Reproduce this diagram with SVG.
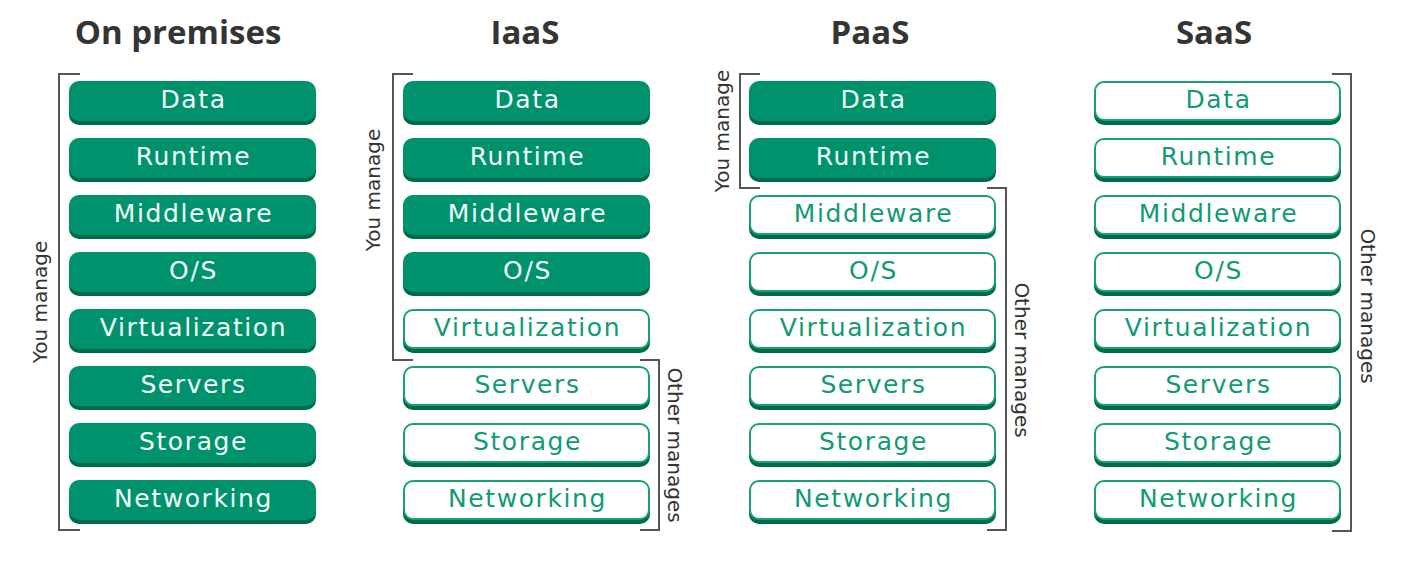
<svg xmlns="http://www.w3.org/2000/svg" width="1416" height="570" viewBox="0 0 1416 570">
<style>
.bg{fill:#ffffff}
.hdr{font-family:"Open Sans","DejaVu Sans",sans-serif;font-weight:700;font-size:33px;fill:#343434;text-anchor:middle}
.sh{fill:#006a4d}
.fill{fill:#00926d}
.out{fill:#ffffff;stroke:#17a07a;stroke-width:2}
.t{font-family:"DejaVu Sans","Liberation Sans",sans-serif;font-size:25px;letter-spacing:1.6px;text-anchor:middle}
.tw{fill:#f2fff9}
.tg{fill:#119a74}
.br{fill:none;stroke:#555555;stroke-width:2}
.side{font-family:"DejaVu Sans","Liberation Sans",sans-serif;font-size:20px;fill:#333333;text-anchor:middle}
</style>
<rect class="bg" x="0" y="0" width="1416" height="570"/>
<g id="headers">
<text class="hdr" x="178" y="44">On premises</text>
<text class="hdr" x="525" y="44">IaaS</text>
<text class="hdr" x="870" y="44">PaaS</text>
<text class="hdr" x="1214" y="44">SaaS</text>
</g>
<g id="brackets">
<path class="br" d="M80,74 H59 V530 H80"/>
<path class="br" d="M413,74 H393 V360 H413"/>
<path class="br" d="M640,360 H659 V530 H640"/>
<path class="br" d="M760,74 H740 V188 H760"/>
<path class="br" d="M987,188 H1006 V530 H987"/>
<path class="br" d="M1332,74 H1351 V531 H1332"/>
<text class="side" x="47" y="302" transform="rotate(-90 47 302)">You manage</text>
<text class="side" x="380" y="190" transform="rotate(-90 380 190)">You manage</text>
<text class="side" x="729" y="131" transform="rotate(-90 729 131)">You manage</text>
<text class="side" x="668" y="445" transform="rotate(90 668 445)">Other manages</text>
<text class="side" x="1015" y="360" transform="rotate(90 1015 360)">Other manages</text>
<text class="side" x="1361" y="306" transform="rotate(90 1361 306)">Other manages</text>
</g>
<g id="onprem">
<g id="op-data"><rect class="sh" x="69" y="84" width="247" height="41" rx="10"/><rect class="fill" x="69" y="81" width="247" height="40" rx="10"/><text class="t tw" x="193.5" y="108">Data</text></g>
<g id="op-runtime"><rect class="sh" x="69" y="141" width="247" height="41" rx="10"/><rect class="fill" x="69" y="138" width="247" height="40" rx="10"/><text class="t tw" x="193.5" y="165">Runtime</text></g>
<g id="op-middleware"><rect class="sh" x="69" y="198" width="247" height="41" rx="10"/><rect class="fill" x="69" y="195" width="247" height="40" rx="10"/><text class="t tw" x="193.5" y="222">Middleware</text></g>
<g id="op-os"><rect class="sh" x="69" y="255" width="247" height="41" rx="10"/><rect class="fill" x="69" y="252" width="247" height="40" rx="10"/><text class="t tw" x="193.5" y="279">O/S</text></g>
<g id="op-virtualization"><rect class="sh" x="69" y="312" width="247" height="41" rx="10"/><rect class="fill" x="69" y="309" width="247" height="40" rx="10"/><text class="t tw" x="193.5" y="336">Virtualization</text></g>
<g id="op-servers"><rect class="sh" x="69" y="369" width="247" height="41" rx="10"/><rect class="fill" x="69" y="366" width="247" height="40" rx="10"/><text class="t tw" x="193.5" y="393">Servers</text></g>
<g id="op-storage"><rect class="sh" x="69" y="426" width="247" height="41" rx="10"/><rect class="fill" x="69" y="423" width="247" height="40" rx="10"/><text class="t tw" x="193.5" y="450">Storage</text></g>
<g id="op-networking"><rect class="sh" x="69" y="483" width="247" height="41" rx="10"/><rect class="fill" x="69" y="480" width="247" height="40" rx="10"/><text class="t tw" x="193.5" y="507">Networking</text></g>
</g>
<g id="iaas">
<g id="ia-data"><rect class="sh" x="403" y="84" width="247" height="41" rx="10"/><rect class="fill" x="403" y="81" width="247" height="40" rx="10"/><text class="t tw" x="527.5" y="108">Data</text></g>
<g id="ia-runtime"><rect class="sh" x="403" y="141" width="247" height="41" rx="10"/><rect class="fill" x="403" y="138" width="247" height="40" rx="10"/><text class="t tw" x="527.5" y="165">Runtime</text></g>
<g id="ia-middleware"><rect class="sh" x="403" y="198" width="247" height="41" rx="10"/><rect class="fill" x="403" y="195" width="247" height="40" rx="10"/><text class="t tw" x="527.5" y="222">Middleware</text></g>
<g id="ia-os"><rect class="sh" x="403" y="255" width="247" height="41" rx="10"/><rect class="fill" x="403" y="252" width="247" height="40" rx="10"/><text class="t tw" x="527.5" y="279">O/S</text></g>
<g id="ia-virtualization"><rect class="sh" x="403" y="312" width="247" height="41" rx="10"/><rect class="out" x="404" y="310" width="245" height="38" rx="9"/><text class="t tg" x="527.5" y="336">Virtualization</text></g>
<g id="ia-servers"><rect class="sh" x="403" y="369" width="247" height="41" rx="10"/><rect class="out" x="404" y="367" width="245" height="38" rx="9"/><text class="t tg" x="527.5" y="393">Servers</text></g>
<g id="ia-storage"><rect class="sh" x="403" y="426" width="247" height="41" rx="10"/><rect class="out" x="404" y="424" width="245" height="38" rx="9"/><text class="t tg" x="527.5" y="450">Storage</text></g>
<g id="ia-networking"><rect class="sh" x="403" y="483" width="247" height="41" rx="10"/><rect class="out" x="404" y="481" width="245" height="38" rx="9"/><text class="t tg" x="527.5" y="507">Networking</text></g>
</g>
<g id="paas">
<g id="pa-data"><rect class="sh" x="749" y="84" width="247" height="41" rx="10"/><rect class="fill" x="749" y="81" width="247" height="40" rx="10"/><text class="t tw" x="873.5" y="108">Data</text></g>
<g id="pa-runtime"><rect class="sh" x="749" y="141" width="247" height="41" rx="10"/><rect class="fill" x="749" y="138" width="247" height="40" rx="10"/><text class="t tw" x="873.5" y="165">Runtime</text></g>
<g id="pa-middleware"><rect class="sh" x="749" y="198" width="247" height="41" rx="10"/><rect class="out" x="750" y="196" width="245" height="38" rx="9"/><text class="t tg" x="873.5" y="222">Middleware</text></g>
<g id="pa-os"><rect class="sh" x="749" y="255" width="247" height="41" rx="10"/><rect class="out" x="750" y="253" width="245" height="38" rx="9"/><text class="t tg" x="873.5" y="279">O/S</text></g>
<g id="pa-virtualization"><rect class="sh" x="749" y="312" width="247" height="41" rx="10"/><rect class="out" x="750" y="310" width="245" height="38" rx="9"/><text class="t tg" x="873.5" y="336">Virtualization</text></g>
<g id="pa-servers"><rect class="sh" x="749" y="369" width="247" height="41" rx="10"/><rect class="out" x="750" y="367" width="245" height="38" rx="9"/><text class="t tg" x="873.5" y="393">Servers</text></g>
<g id="pa-storage"><rect class="sh" x="749" y="426" width="247" height="41" rx="10"/><rect class="out" x="750" y="424" width="245" height="38" rx="9"/><text class="t tg" x="873.5" y="450">Storage</text></g>
<g id="pa-networking"><rect class="sh" x="749" y="483" width="247" height="41" rx="10"/><rect class="out" x="750" y="481" width="245" height="38" rx="9"/><text class="t tg" x="873.5" y="507">Networking</text></g>
</g>
<g id="saas">
<g id="sa-data"><rect class="sh" x="1094" y="84" width="247" height="41" rx="10"/><rect class="out" x="1095" y="82" width="245" height="38" rx="9"/><text class="t tg" x="1218.5" y="108">Data</text></g>
<g id="sa-runtime"><rect class="sh" x="1094" y="141" width="247" height="41" rx="10"/><rect class="out" x="1095" y="139" width="245" height="38" rx="9"/><text class="t tg" x="1218.5" y="165">Runtime</text></g>
<g id="sa-middleware"><rect class="sh" x="1094" y="198" width="247" height="41" rx="10"/><rect class="out" x="1095" y="196" width="245" height="38" rx="9"/><text class="t tg" x="1218.5" y="222">Middleware</text></g>
<g id="sa-os"><rect class="sh" x="1094" y="255" width="247" height="41" rx="10"/><rect class="out" x="1095" y="253" width="245" height="38" rx="9"/><text class="t tg" x="1218.5" y="279">O/S</text></g>
<g id="sa-virtualization"><rect class="sh" x="1094" y="312" width="247" height="41" rx="10"/><rect class="out" x="1095" y="310" width="245" height="38" rx="9"/><text class="t tg" x="1218.5" y="336">Virtualization</text></g>
<g id="sa-servers"><rect class="sh" x="1094" y="369" width="247" height="41" rx="10"/><rect class="out" x="1095" y="367" width="245" height="38" rx="9"/><text class="t tg" x="1218.5" y="393">Servers</text></g>
<g id="sa-storage"><rect class="sh" x="1094" y="426" width="247" height="41" rx="10"/><rect class="out" x="1095" y="424" width="245" height="38" rx="9"/><text class="t tg" x="1218.5" y="450">Storage</text></g>
<g id="sa-networking"><rect class="sh" x="1094" y="483" width="247" height="41" rx="10"/><rect class="out" x="1095" y="481" width="245" height="38" rx="9"/><text class="t tg" x="1218.5" y="507">Networking</text></g>
</g>
</svg>
